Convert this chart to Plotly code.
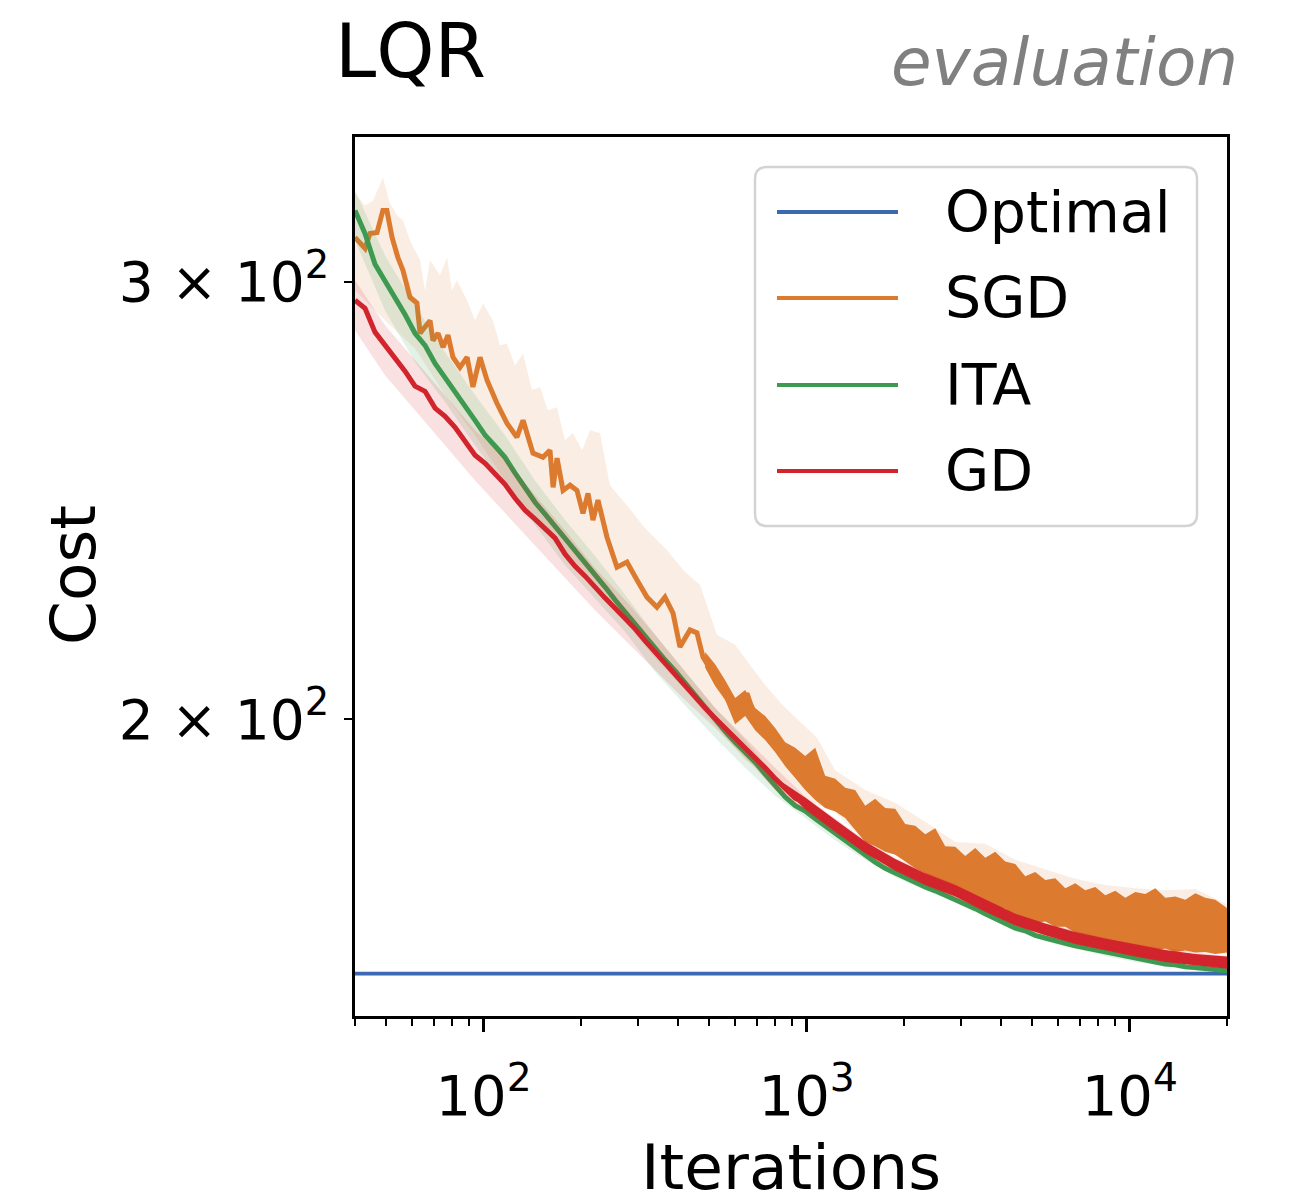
import math
import plotly.graph_objects as go

# ---------------- data ----------------
ITER = [40, 42.96, 46.13, 49.54, 53.2, 57.13, 61.35, 65.89, 70.76, 75.99,
        81.6, 87.63, 94.11, 101.1, 108.5, 116.5, 125.2, 134.4, 144.3, 155.0,
        166.5, 178.8, 192.0, 206.2, 221.4, 237.8, 255.4, 274.2, 294.5, 316.3,
        339.6, 364.7, 391.7, 420.6, 451.7, 485.1, 520.9, 559.4, 600.8, 645.2,
        692.8, 744.0, 799.0, 858.1, 921.5, 989.6, 1063, 1141, 1226, 1316,
        1413, 1518, 1630, 1750, 1880, 2019, 2168, 2328, 2500, 2685,
        2883, 3096, 3325, 3571, 3835, 4118, 4422, 4749, 5100, 5477,
        5882, 6316, 6783, 7284, 7823, 8401, 9021, 9688, 10404, 11172,
        11998, 12885, 13837, 14860, 15958, 17137, 18404, 20000]

OPTIMAL = 158.0

# SGD: early, jagged part read point by point
SGD_ITER_EARLY = [40, 42.96, 44.5, 46.8, 48.8, 50.2, 52.1, 54.3, 56.3, 59.2,
                  62.2, 63.6, 68.3, 69.7, 72.3, 74.9, 77.6, 80.4, 84.5, 88.9,
                  92.7, 97.5, 102.5, 110.0, 118.1, 126.8, 132.5, 142.2, 152.7, 160.5,
                  164.1, 168.8, 176.2, 185.2, 194.6, 203.1, 210.5, 218.1, 226.0, 241.0,
                  258.8, 277.9, 298.4, 320.4, 344.0, 364.3, 385.8, 405.4, 435.4, 457.7,
                  477.6, 513.0, 550.9, 608.7, 653.6, 701.9, 769.9, 826.8]
SGD_EARLY = [312.7, 309.5, 313.8, 314.1, 320.6, 320.6, 312.7, 306.9, 303.3, 295.8,
             294.2, 286.1, 289.5, 284.2, 286.1, 282.4, 285.6, 279.8, 277.2, 279.8,
             272.2, 279.8, 273.9, 268.1, 263.2, 259.8, 263.9, 256.0, 255.0, 256.7,
             248.0, 254.8, 247.3, 248.5, 247.3, 242.1, 246.6, 240.6, 245.1, 236.8,
             230.3, 231.4, 227.6, 224.0, 221.9, 224.0, 220.7, 213.9, 217.3, 216.7,
             211.9, 208.8, 205.5, 200.4, 204.9, 199.3, 197.5, 194.9]
# SGD: later part, at ITER[43:]
SGD_LATE = [194.0, 192.4, 191.2, 189.9, 187.5, 186.6, 186.1, 183.9, 182.2, 181.9,
            181.7, 180.3, 179.0, 177.8, 177.2, 176.7, 175.1, 174.3, 173.8, 173.4,
            173.1, 172.6, 172.0, 170.9, 169.9, 169.7, 169.6, 169.2, 168.5, 168.2,
            167.8, 167.1, 166.8, 166.7, 166.4, 166.4, 166.5, 166.4, 165.9, 165.6,
            165.6, 165.8, 165.8, 165.1, 164.5]

ITA = [320.6, 313.8, 305.0, 300.5, 295.5, 291.1, 286.1, 282.9, 278.2, 274.7,
       271.1, 267.4, 263.9, 260.3, 257.7, 255.0, 251.3, 247.8, 244.6, 241.9,
       239.2, 236.6, 234.2, 231.6, 228.9, 226.1, 223.4, 220.9, 218.5, 215.9,
       213.5, 211.3, 209.2, 206.8, 204.5, 202.3, 200.1, 197.8, 195.8, 194.0,
       192.2, 190.1, 188.0, 186.1, 184.6, 183.7, 182.4, 181.2, 179.8, 178.6,
       177.4, 176.4, 175.2, 174.2, 173.4, 172.6, 171.8, 171.2, 170.6, 169.9,
       169.3, 168.5, 167.8, 167.0, 166.2, 165.5, 164.8, 164.4, 163.7, 163.3,
       162.8, 162.5, 162.1, 161.8, 161.4, 161.1, 160.8, 160.5, 160.2, 159.9,
       159.7, 159.4, 159.3, 159.0, 158.9, 158.7, 158.6, 158.4]

GD = [295.0, 292.8, 286.4, 282.9, 279.8, 276.2, 272.4, 271.1, 266.9, 264.9,
      262.2, 258.9, 255.5, 253.6, 251.1, 248.7, 245.5, 242.8, 240.8, 238.8,
      236.6, 233.1, 230.5, 228.4, 225.9, 223.8, 221.7, 219.7, 217.5, 215.1,
      212.9, 210.5, 208.4, 206.3, 204.0, 202.1, 200.2, 198.4, 196.6, 194.8,
      193.1, 191.2, 189.3, 187.5, 185.9, 185.1, 183.7, 182.5, 181.2, 180.0,
      178.6, 177.7, 176.5, 175.6, 174.8, 173.9, 173.1, 172.5, 171.8, 171.2,
      170.6, 169.8, 169.0, 168.2, 167.5, 166.7, 166.1, 165.6, 165.0, 164.5,
      164.1, 163.8, 163.3, 163.0, 162.6, 162.3, 162.0, 161.7, 161.4, 161.1,
      160.9, 160.6, 160.5, 160.2, 160.0, 159.9, 159.7, 159.6]

# fast oscillation range of the SGD curve (iterations ITER[35:])
SGD_ENV_IDX = list(range(35, 88))
SGD_ENV_HI = [212.9, 210.5, 207.4, 204.0, 205.5, 202.1, 200.6, 198.4, 195.8, 194.8,
              193.3, 194.8, 189.8, 189.3, 187.7, 187.3, 184.6, 185.8, 184.2, 184.1,
              181.5, 181.2, 179.8, 180.8, 177.8, 177.7, 176.2, 177.5, 175.9, 176.9,
              175.3, 174.9, 172.9, 173.6, 172.3, 172.6, 171.0, 171.8, 170.7, 171.2,
              169.9, 170.6, 169.5, 170.4, 170.1, 171.0, 169.5, 169.7, 169.2, 170.2,
              169.5, 169.2, 167.9]
SGD_ENV_LO = [209.8, 206.3, 203.6, 199.1, 200.6, 198.0, 196.2, 194.0, 191.5, 189.4,
              187.3, 185.6, 184.2, 183.6, 182.5, 180.5, 178.5, 177.8, 176.9, 176.4,
              175.3, 174.2, 173.4, 172.0, 171.5, 170.4, 170.1, 168.9, 168.9, 167.9,
              167.8, 166.7, 166.4, 165.6, 165.8, 165.0, 165.0, 164.1, 163.8, 162.8,
              162.8, 162.4, 162.5, 161.9, 161.9, 161.5, 161.7, 161.2, 161.4, 161.1,
              161.2, 160.9, 161.1]

# fast oscillation range of the GD curve
GD_ENV_IDX = list(range(42, 88, 3))
GD_ENV_HI = [189.5, 186.0, 182.2, 178.6, 175.7, 173.4, 171.5, 169.2, 167.0, 165.5,
             164.2, 163.2, 162.3, 161.5, 160.9, 160.5]
GD_ENV_LO = [188.9, 184.0, 180.2, 176.7, 173.8, 171.5, 169.7, 167.3, 165.2, 163.7,
             162.4, 161.4, 160.5, 159.7, 159.2, 158.7]

# shaded spread
BAND_IDX = list(range(0, 88, 3))
SGD_BAND_HI_ITER = [40, 42.96, 45.5, 48.8, 51.3, 54.0, 56.3, 59.2, 63.6, 65.9,
                    68.3, 73.3, 77.1, 79.8, 82.7, 88.9, 94.1, 99.6, 106.9, 112.4,
                    118.1, 125.1, 132.5, 141.2, 149.5, 158.2, 168.8, 178.7, 189.1, 201.7,
                    213.5, 229.2, 246.1, 277.9, 315.9, 369.5, 420.2, 467.5, 527.8, 600.1,
                    667.7, 743.0, 844.7, 953.7, 1076.6, 1223.8,
                    1518, 1880, 2328, 2883, 3571, 4422, 5477, 6783, 8401, 10404,
                    12885, 15958, 20000]
SGD_BAND_HI = [325.7, 322.1, 323.6, 330.5, 322.7, 319.2, 317.7, 311.8, 306.1, 297.7,
               306.1, 301.9, 306.9, 297.7, 300.5, 295.0, 289.5, 294.2, 289.5, 282.9,
               283.4, 277.7, 280.8, 271.4, 272.2, 266.4, 267.1, 259.1, 260.8, 256.7,
               261.5, 260.8, 248.5, 243.9, 238.8, 234.0, 229.3, 226.6, 216.3, 214.3,
               210.4, 206.5, 202.6, 199.5, 196.6, 190.8,
               187.3, 185.1, 181.9, 178.5, 178.2, 175.6, 174.1, 172.5, 171.5, 171.0,
               170.7, 170.9, 168.5]
SGD_BAND_LO = [297.7, 289.5, 282.1, 270.2, 260.3, 249.6, 240.6, 232.9, 225.5, 218.9,
               211.7, 205.5, 199.0, 192.6, 189.1, 185.6, 183.6, 178.5, 176.4, 173.1,
               170.6, 168.5, 166.7, 165.5, 164.2, 162.6, 162.0, 161.4, 161.1, 160.8]
ITA_BAND_HI = [326.6, 307.5, 293.6, 281.1, 270.2, 260.3, 249.6, 240.6, 232.7, 224.5,
               216.3, 209.0, 202.1, 196.2, 189.8, 184.9, 180.8, 177.2, 174.1, 171.7,
               169.8, 167.5, 165.3, 163.8, 162.6, 161.5, 160.6, 159.9, 159.3, 158.9]
ITA_BAND_LO = [311.8, 292.2, 278.5, 268.4, 257.9, 248.5, 239.5, 230.7, 223.8, 216.9,
               209.0, 202.6, 196.6, 191.2, 186.3, 182.5, 178.8, 175.6, 172.8, 170.7,
               168.8, 166.5, 164.4, 162.8, 161.7, 160.6, 159.7, 159.0, 158.4, 158.0]
GD_BAND_HI = [300.5, 288.2, 279.0, 270.2, 261.5, 254.8, 246.2, 238.3, 230.1, 223.4,
              216.3, 209.0, 202.1, 196.6, 191.2, 186.2, 182.5, 178.8, 175.9, 173.6,
              171.7, 169.3, 167.1, 165.6, 164.4, 163.3, 162.4, 161.7, 161.1, 160.6]
GD_BAND_LO = [286.9, 275.2, 266.4, 257.9, 249.6, 242.4, 235.0, 228.0, 221.3, 215.3,
              209.4, 203.6, 198.4, 193.0, 187.3, 183.6, 179.8, 176.5, 173.8, 171.4,
              169.5, 167.3, 165.2, 163.8, 162.7, 161.7, 160.8, 160.0, 159.4, 159.0]

NAMES = ["Optimal", "SGD", "ITA", "GD"]
COLORS = ["#3b6ab3", "#dc7b2f", "#3d9a50", "#d2242c"]
BAND_FILLS = [None, "rgba(220,123,47,0.13)", "rgba(61,154,80,0.14)", "rgba(210,36,44,0.14)"]

X_RANGE = [40, 20000]
Y_RANGE = [151.9, 343.2]
X_MAJOR = [100, 1000, 10000]
X_MAJOR_TEXT = ["10<sup>2</sup>", "10<sup>3</sup>", "10<sup>4</sup>"]
X_MINOR = [40, 50, 60, 70, 80, 90, 200, 300, 400, 500, 600, 700, 800, 900,
           2000, 3000, 4000, 5000, 6000, 7000, 8000, 9000, 20000]
Y_TICKS = [200, 300]
Y_TICK_TEXT = ["2 × 10<sup>2</sup>", "3 × 10<sup>2</sup>"]

FONT = "DejaVu Sans"
LW = 5.0

# ---------------- figure ----------------
fig = go.Figure()


def pick(idx):
    return [ITER[i] for i in idx]


def area(xs_hi, hi, xs_lo, lo, fill):
    fig.add_trace(go.Scatter(x=xs_hi + xs_lo[::-1], y=hi + lo[::-1], mode="lines",
                             fill="toself", fillcolor=fill, line=dict(width=0),
                             hoverinfo="skip", showlegend=False))


def curve(xs, ys, color, name, width=LW):
    fig.add_trace(go.Scatter(x=xs, y=ys, mode="lines", name=name,
                             line=dict(color=color, width=width), showlegend=False))


curve(X_RANGE, [OPTIMAL, OPTIMAL], COLORS[0], NAMES[0], 3.8)

bx = pick(BAND_IDX)
area(SGD_BAND_HI_ITER, SGD_BAND_HI, bx, SGD_BAND_LO, BAND_FILLS[1])
ex = pick(SGD_ENV_IDX)
area(ex, SGD_ENV_HI, ex, SGD_ENV_LO, COLORS[1])
curve(SGD_ITER_EARLY + ITER[43:], SGD_EARLY + SGD_LATE, COLORS[1], NAMES[1])

area(bx, ITA_BAND_HI, bx, ITA_BAND_LO, BAND_FILLS[2])
curve(ITER, ITA, COLORS[2], NAMES[2])

area(bx, GD_BAND_HI, bx, GD_BAND_LO, BAND_FILLS[3])
gx = pick(GD_ENV_IDX)
area(gx, GD_ENV_HI, gx, GD_ENV_LO, COLORS[3])
curve(ITER, GD, COLORS[3], NAMES[3])

W, H = 1290, 1198
L, R, T, B = 355, 63, 137, 182
PW, PH = W - L - R, H - T - B


def px(xp):
    return (xp - L) / PW


def py(yp):
    return 1 - (yp - T) / PH


fig.update_layout(
    width=W, height=H, autosize=False,
    margin=dict(l=L, r=R, t=T, b=B, pad=0),
    paper_bgcolor="white", plot_bgcolor="white",
    font=dict(family=FONT, color="black"),
    showlegend=False,
    xaxis=dict(type="log", range=[math.log10(v) for v in X_RANGE],
               showline=True, linecolor="black", linewidth=2.5, mirror=True,
               showgrid=False, zeroline=False,
               ticks="outside", ticklen=13, tickwidth=2.5, tickcolor="black",
               tickmode="array", tickvals=X_MAJOR, ticktext=X_MAJOR_TEXT,
               tickfont=dict(size=56, family=FONT, color="black"),
               ticklabelstandoff=16,
               minor=dict(tickmode="array", tickvals=X_MINOR, ticks="outside",
                          ticklen=7, tickwidth=1.8, tickcolor="black", showgrid=False)),
    yaxis=dict(type="log", range=[math.log10(v) for v in Y_RANGE],
               showline=True, linecolor="black", linewidth=2.5, mirror=True,
               showgrid=False, zeroline=False,
               ticks="outside", ticklen=8, tickwidth=2, tickcolor="black",
               tickmode="array", tickvals=Y_TICKS, ticktext=Y_TICK_TEXT,
               tickfont=dict(size=55, family=FONT, color="black"),
               ticklabelstandoff=4),
)

ann = []
ann.append(dict(text="LQR", x=px(333), y=py(51), xref="paper", yref="paper",
                xanchor="left", yanchor="middle", showarrow=False,
                font=dict(size=74, family=FONT, color="black")))
ann.append(dict(text="<i>evaluation</i>", x=px(1240), y=py(62), xref="paper", yref="paper",
                xanchor="right", yanchor="middle", showarrow=False,
                font=dict(size=66, family=FONT, color="#808080")))
ann.append(dict(text="Cost", x=px(73), y=py(575), xref="paper", yref="paper",
                xanchor="center", yanchor="middle", textangle=-90, showarrow=False,
                font=dict(size=63, family=FONT, color="black")))
ann.append(dict(text="Iterations", x=px(791), y=py(1167), xref="paper", yref="paper",
                xanchor="center", yanchor="middle", showarrow=False,
                font=dict(size=63, family=FONT, color="black")))

# legend (matplotlib style: long line samples, rounded frame)
x0, x1, y0, y1 = px(755), px(1197), py(526), py(167)
rx, ry = 12 / PW, 12 / PH
path = (f"M {x0+rx},{y0} L {x1-rx},{y0} Q {x1},{y0} {x1},{y0+ry} "
        f"L {x1},{y1-ry} Q {x1},{y1} {x1-rx},{y1} L {x0+rx},{y1} "
        f"Q {x0},{y1} {x0},{y1-ry} L {x0},{y0+ry} Q {x0},{y0} {x0+rx},{y0} Z")
shapes = [dict(type="path", path=path, xref="paper", yref="paper", layer="above",
               fillcolor="rgba(255,255,255,0.8)", line=dict(color="#d3d3d3", width=2.5))]
rows = [212, 298, 385, 471]
for name, color, ry_ in zip(NAMES, COLORS, rows):
    shapes.append(dict(type="line", xref="paper", yref="paper", layer="above",
                       x0=px(777), x1=px(898), y0=py(ry_), y1=py(ry_),
                       line=dict(color=color, width=3.8)))
    ann.append(dict(text=name, x=px(943), y=py(ry_), xref="paper", yref="paper",
                    xanchor="left", yanchor="middle", showarrow=False,
                    font=dict(size=57, family=FONT, color="black")))

fig.update_layout(annotations=ann, shapes=shapes)
fig.write_html("out.html", config={"displayModeBar": False},
               post_script="document.body.style.margin='0';document.body.style.overflow='hidden';")
